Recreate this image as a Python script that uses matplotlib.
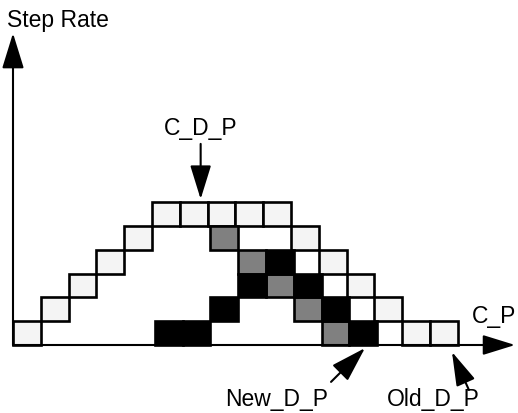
import matplotlib
matplotlib.use("Agg")
import matplotlib.pyplot as plt

plt.rcParams["font.family"] = ["Liberation Sans", "DejaVu Sans"]

# ---------------------------------------------------------------------------
# Data: cell grid (column index, step-rate row)
# ---------------------------------------------------------------------------
old_cols = list(range(16))
old_rows = [0, 1, 2, 3, 4, 5, 5, 5, 5, 5, 4, 3, 2, 1, 0, 0]

new_black_cols = [5, 6, 7, 8, 9, 10, 11, 12]
new_black_rows = [0, 0, 1, 2, 3, 2, 1, 0]

new_gray_cols = [7, 8, 9, 10, 11]
new_gray_rows = [4, 3, 2, 1, 0]

LIGHT = "#f4f4f4"
GRAY = "#808080"
FS = 16.5
DARK_SHIFT = 0.1  # the new profile sits a touch right of the old grid

# figure is 518x413 px; one cell is ~27.8 x 23.8 px, origin at px (13, 345)
W, H = 518, 413
cw, ch = 27.8, 23.8
x0_px, y0_px = 13, 345

fig = plt.figure(figsize=(W / 100, H / 100), dpi=100)
ax = fig.add_axes([0, 0, 1, 1])
ax.set_xlim(-x0_px / cw, (W - x0_px) / cw)
ax.set_ylim(-(H - y0_px) / ch, y0_px / ch)
ax.axis("off")

cell_kw = dict(width=1, align="edge", edgecolor="black", linewidth=1.9,
               zorder=3)
ax.bar(old_cols, 1, bottom=old_rows, color=LIGHT, **cell_kw)
ax.bar([c + DARK_SHIFT for c in new_gray_cols], 1, bottom=new_gray_rows,
       color=GRAY, **cell_kw)
ax.bar([c + DARK_SHIFT for c in new_black_cols], 1, bottom=new_black_rows,
       color="black", **cell_kw)


def arrow(tip, tail, hl=2.1, hw=0.65, lw=1.5):
    ax.annotate(
        "", xy=tip, xytext=tail,
        arrowprops=dict(
            arrowstyle=f"-|>,head_length={hl},head_width={hw}",
            mutation_scale=10, lw=lw, color="black",
            shrinkA=0, shrinkB=0,
        ),
        zorder=4,
    )


# axes
arrow((0, 13.1), (0, 0), hl=2.2, hw=0.68)
arrow((18.06, 0), (0, 0), hl=2.0, hw=0.62)
ax.text(-0.22, 13.36, "Step Rate", fontsize=FS, ha="left", va="baseline")
ax.text(16.5, 0.92, "C_P", fontsize=FS, ha="left", va="baseline")

# pointers
arrow((6.75, 6.13), (6.75, 8.45), hl=2.1, hw=0.65)
ax.text(6.76, 8.82, "C_D_P", fontsize=FS, ha="center", va="baseline")

arrow((12.66, -0.13), (11.44, -1.55), hl=2.2, hw=0.68)
ax.text(11.33, -2.56, "New_D_P", fontsize=FS, ha="right", va="baseline")

arrow((15.79, -0.29), (16.4, -1.89), hl=2.1, hw=0.62)
ax.text(13.45, -2.56, "Old_D_P", fontsize=FS, ha="left", va="baseline")

fig.savefig("out.png", dpi=100)
